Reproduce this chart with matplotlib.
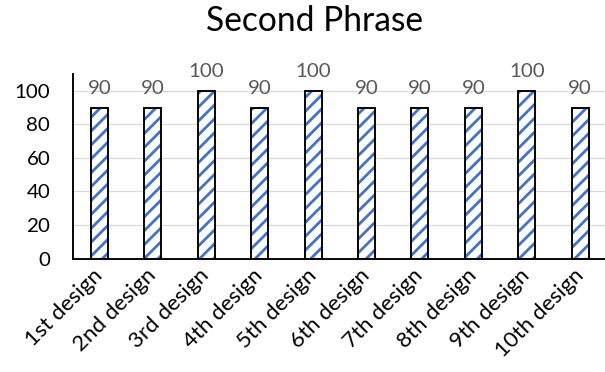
import matplotlib
matplotlib.use("Agg")
import matplotlib.pyplot as plt

designs = ["1st design", "2nd design", "3rd design", "4th design", "5th design",
           "6th design", "7th design", "8th design", "9th design", "10th design"]
scores = [90, 90, 100, 90, 100, 90, 90, 90, 100, 90]
y_ticks = [0, 20, 40, 60, 80, 100]

plt.rcParams["font.family"] = ["Lato", "DejaVu Sans"]
plt.rcParams["hatch.linewidth"] = 1.6

DPI = 125
FS = 11.8
fig = plt.figure(figsize=(605 / DPI, 372 / DPI), dpi=DPI)
ax = fig.add_axes([0.1202, 0.3051, 1.003 - 0.1202, 0.801 - 0.3051])

x = range(len(designs))
bar_w = 0.32
# hatched fill (blue stripes on white)
ax.bar(x, scores, width=bar_w, color="white", edgecolor="#4472C4",
       hatch="///", linewidth=0, zorder=2)
# black outline
bars = ax.bar(x, scores, width=bar_w, color="none", edgecolor="black",
              linewidth=1.1, zorder=3)

for rect, v in zip(bars, scores):
    ax.annotate(f"{v}", (rect.get_x() + rect.get_width() / 2, v),
                xytext=(0, 6), textcoords="offset points",
                ha="center", va="bottom", fontsize=FS, color="#595959")

ax.set_xlim(-0.5, len(designs) - 0.5)
ax.set_ylim(0, 110)
ax.set_yticks(y_ticks)
ax.yaxis.grid(True, color="#D9D9D9", linewidth=0.7, zorder=0)
ax.set_axisbelow(True)

ax.set_xticks(list(x))
ax.set_xticklabels(designs, rotation=45, ha="right", va="center",
                   rotation_mode="anchor", fontsize=12.8)
ax.tick_params(axis="x", length=0, pad=8)
ax.tick_params(axis="y", length=0, pad=13, labelsize=FS)

for s in ["top", "right"]:
    ax.spines[s].set_visible(False)
for s in ["left", "bottom"]:
    ax.spines[s].set_linewidth(1.1)
    ax.spines[s].set_color("black")

fig.text(315 / 605, 1 - 21 / 372, "Second Phrase", ha="center", va="center",
         fontsize=19.3, color="black")

fig.savefig("out.png", dpi=DPI)
